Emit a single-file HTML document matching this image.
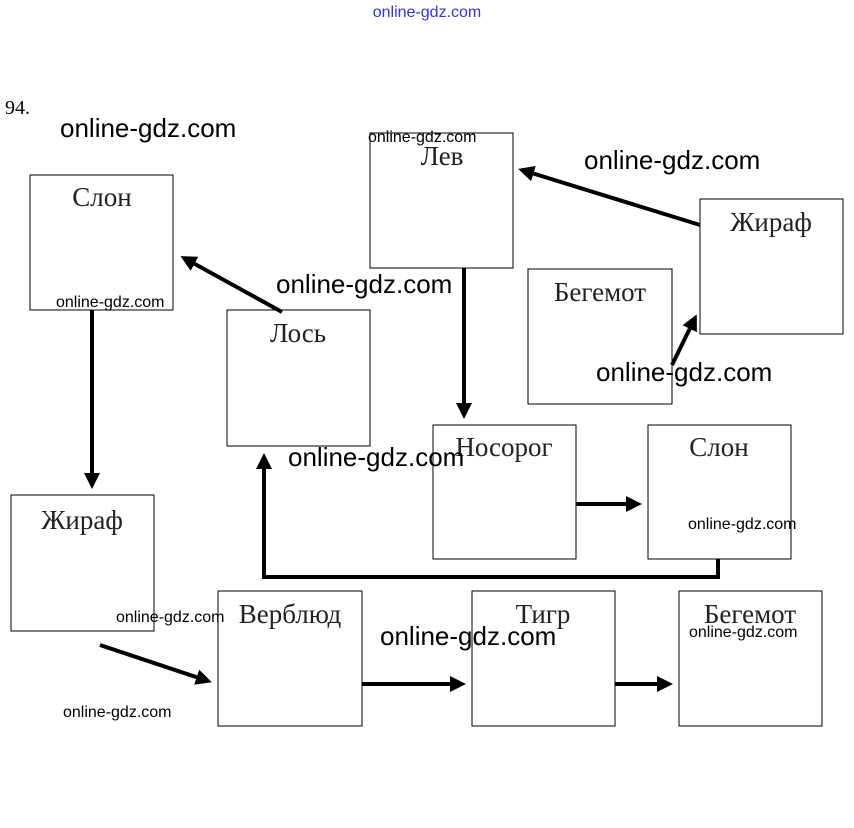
<!DOCTYPE html>
<html><head><meta charset="utf-8"><style>
html,body{margin:0;padding:0;background:#fff;}
svg{display:block}
.b{fill:#fff;stroke:#000;stroke-width:1}
.t{font-family:"Liberation Serif",serif;font-size:27px;fill:#222;text-anchor:middle}
.w{font-family:"Liberation Sans",sans-serif;font-size:26px;fill:#000}
.ws{font-family:"Liberation Sans",sans-serif;font-size:16px;fill:#000}
.l{stroke:#000;stroke-width:4;fill:none}
</style></head><body>
<svg width="854" height="828" viewBox="0 0 854 828">
<defs><marker id="a" markerWidth="4" markerHeight="4" refX="3" refY="2" orient="auto"><path d="M0,0 L4,2 L0,4 z" fill="#000"/></marker></defs>
<text x="427" y="17" text-anchor="middle" font-family="Liberation Sans,sans-serif" font-size="16" fill="#3333dd">online-gdz.com</text>
<text x="5" y="114" font-family="Liberation Serif,serif" font-size="20">94.</text>

<rect class="b" x="30" y="175" width="143" height="135"/><text class="t" x="102" y="206">Слон</text>
<rect class="b" x="370" y="133" width="143" height="135"/><text class="t" x="442" y="165">Лев</text>
<rect class="b" x="700" y="199" width="143" height="135"/><text class="t" x="771" y="231">Жираф</text>
<rect class="b" x="528" y="269" width="144" height="135"/><text class="t" x="600" y="301">Бегемот</text>
<rect class="b" x="227" y="310" width="143" height="136"/><text class="t" x="298" y="342">Лось</text>
<rect class="b" x="433" y="425" width="143" height="134"/><text class="t" x="504" y="456">Носорог</text>
<rect class="b" x="648" y="425" width="143" height="134"/><text class="t" x="719" y="456">Слон</text>
<rect class="b" x="11" y="495" width="143" height="136"/><text class="t" x="82" y="529">Жираф</text>
<rect class="b" x="218" y="591" width="144" height="135"/><text class="t" x="290" y="623">Верблюд</text>
<rect class="b" x="472" y="591" width="143" height="135"/><text class="t" x="543" y="623">Тигр</text>
<rect class="b" x="679" y="591" width="143" height="135"/><text class="t" x="750" y="623">Бегемот</text>

<line class="l" x1="700" y1="225" x2="522" y2="170" marker-end="url(#a)"/>
<line class="l" x1="282" y1="312" x2="184" y2="258" marker-end="url(#a)"/>
<line class="l" x1="92" y1="310" x2="92" y2="485" marker-end="url(#a)"/>
<line class="l" x1="464" y1="268" x2="464" y2="415" marker-end="url(#a)"/>
<line class="l" x1="672" y1="365" x2="695" y2="318" marker-end="url(#a)"/>
<line class="l" x1="576" y1="504" x2="638" y2="504" marker-end="url(#a)"/>
<polyline class="l" points="718,559 718,577 264,577 264,457" marker-end="url(#a)"/>
<line class="l" x1="100" y1="645" x2="208" y2="681" marker-end="url(#a)"/>
<line class="l" x1="362" y1="684" x2="462" y2="684" marker-end="url(#a)"/>
<line class="l" x1="615" y1="684" x2="669" y2="684" marker-end="url(#a)"/>

<text class="w" x="60" y="137">online-gdz.com</text>
<text class="w" x="584" y="169">online-gdz.com</text>
<text class="w" x="276" y="293">online-gdz.com</text>
<text class="w" x="596" y="381">online-gdz.com</text>
<text class="w" x="288" y="466">online-gdz.com</text>
<text class="w" x="380" y="645">online-gdz.com</text>
<text class="ws" x="368" y="142" font-size="12">online-gdz.com</text>
<text class="ws" x="56" y="307" font-size="15">online-gdz.com</text>
<text class="ws" x="688" y="529">online-gdz.com</text>
<text class="ws" x="116" y="622">online-gdz.com</text>
<text class="ws" x="689" y="637">online-gdz.com</text>
<text class="ws" x="63" y="717">online-gdz.com</text>
</svg>
</body></html>
